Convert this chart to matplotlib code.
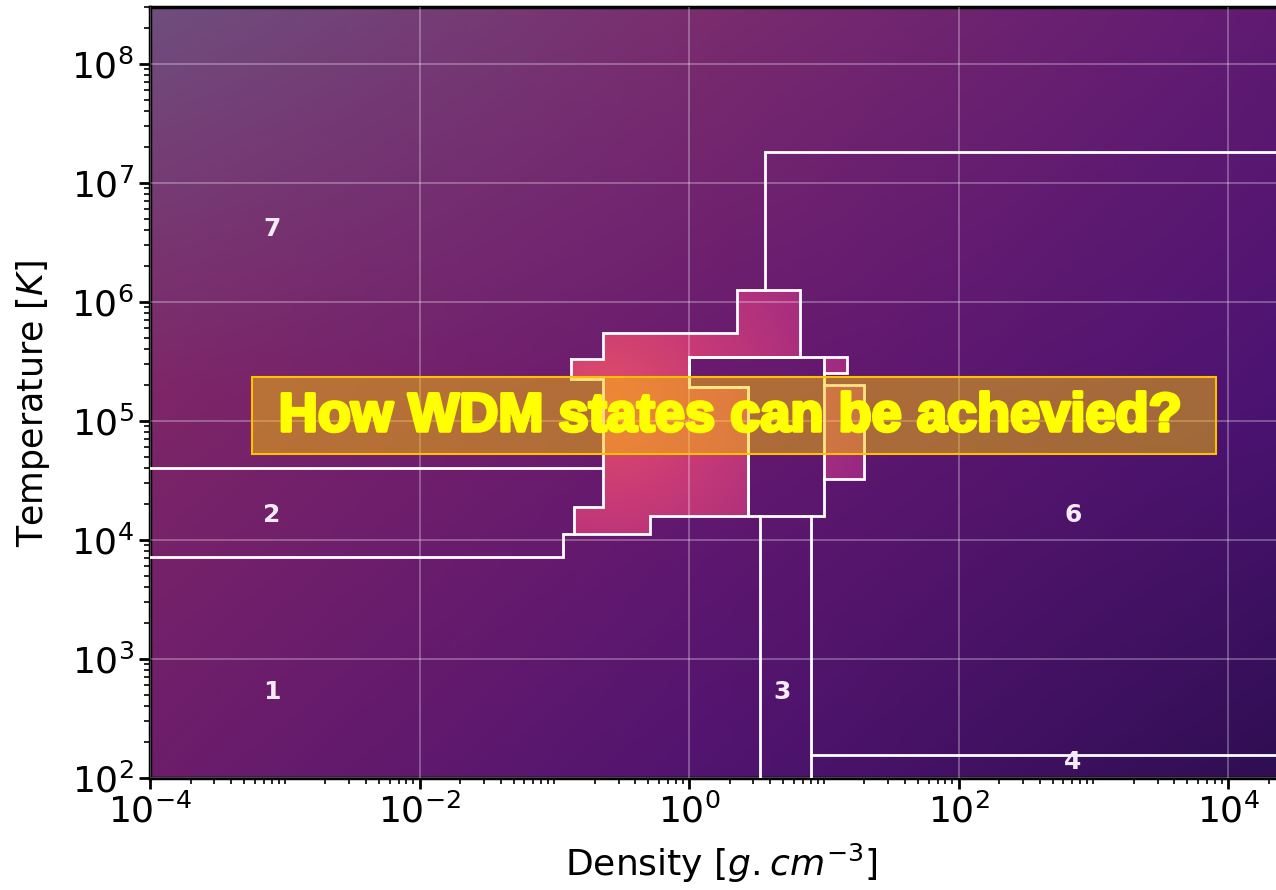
import numpy as np
import matplotlib.pyplot as plt
from matplotlib.path import Path
from matplotlib.patches import PathPatch, Rectangle
from matplotlib.colors import to_rgb
from matplotlib.ticker import FixedLocator, LogLocator, NullFormatter
import matplotlib.patheffects as pe

# ── Region outlines (density g/cm3, temperature K) ───────────────────────────
wdm_rho = [0.133, 0.23, 0.23, 2.27, 2.27, 6.67, 6.67, 1.0, 1.0, 2.74, 2.74,
           0.51, 0.51, 0.14, 0.14, 0.23, 0.23, 0.133]
wdm_T = [3.3e5, 3.3e5, 5.46e5, 5.46e5, 1.25e6, 1.25e6, 3.43e5, 3.43e5, 1.92e5,
         1.92e5, 1.58e4, 1.58e4, 1.12e4, 1.12e4, 1.88e4, 1.88e4, 2.24e5, 2.24e5]

tab_rho = [10.0, 15.0, 15.0, 10.0]
tab_T = [3.43e5, 3.43e5, 2.52e5, 2.52e5]

side_rho = [10.0, 20.0, 20.0, 10.0]
side_T = [2.0e5, 2.0e5, 3.24e4, 3.24e4]

box5_rho = [1.0, 10.0, 10.0, 2.74, 2.74, 1.0, 1.0]
box5_T = [3.43e5, 3.43e5, 1.58e4, 1.58e4, 1.92e5, 1.92e5, 3.43e5]

r2_top_rho = [1e-4, 0.23]
r2_top_T = [4.0e4, 4.0e4]
r2_bot_rho = [1e-4, 0.116, 0.116, 0.14]
r2_bot_T = [7.16e3, 7.16e3, 1.12e4, 1.12e4]

r6_rho = [3.66, 3.66, 1e6]
r6_T = [1.25e6, 1.81e7, 1.81e7]

r3_left_rho = [3.36, 3.36]
r3_right_rho = [8.1, 8.1]
r3_T = [1.58e4, 10.0]

r4_rho = [8.1, 1e6]
r4_T = [155, 155]

labels = ['7', '2', '1', '3', '6', '4']
label_rho = [8e-4, 8e-4, 8e-4, 4.9, 708, 708]
label_T = [4.1e6, 1.6e4, 525, 525, 1.6e4, 135]

x_major = [1e-4, 1e-2, 1e0, 1e2, 1e4]
y_major = [1e2, 1e3, 1e4, 1e5, 1e6, 1e7, 1e8]

# ── Figure ───────────────────────────────────────────────────────────────────
fig = plt.figure(figsize=(12.76, 8.90), dpi=100)
ax = fig.add_axes([150 / 1276, 112.3 / 890, 1126 / 1276, 770.7 / 890])
ax.set_xscale('log')
ax.set_yscale('log')

# background gradient (3x3 colour grid, bilinear)
bg_cols = [['#6f4e7e', '#7a2c6e', '#601a72'],
           ['#7e2668', '#68196f', '#4c1372'],
           ['#6c1d6b', '#501470', '#2f0e52']]
grid = np.array([[to_rgb(c) for c in row] for row in bg_cols])
H, W = 200, 292
gy = np.linspace(0, 2, H)
gx = np.linspace(0, 2, W)
iy = np.minimum(gy.astype(int), 1)
ix = np.minimum(gx.astype(int), 1)
fy = (gy - iy)[:, None, None]
fx = (gx - ix)[None, :, None]
c00 = grid[iy][:, ix]
c01 = grid[iy][:, ix + 1]
c10 = grid[iy + 1][:, ix]
c11 = grid[iy + 1][:, ix + 1]
bg = (c00 * (1 - fx) + c01 * fx) * (1 - fy) + (c10 * (1 - fx) + c11 * fx) * fy
ax.imshow(bg, extent=[0, 1, 0, 1], transform=ax.transAxes, aspect='auto',
          interpolation='bilinear', zorder=0)

# WDM hot region: radial gradient clipped to the outlines
px = np.linspace(0, 1126, W)[None, :]
py = np.linspace(0, 771, H)[:, None]
d = np.hypot(px - 460, py - 395)
stops_d = [0, 100, 260]
stops_c = np.array([to_rgb('#e04e68'), to_rgb('#c83a76'), to_rgb('#982883')])
hot = np.stack([np.interp(d, stops_d, stops_c[:, k]) for k in range(3)], axis=-1)
im = ax.imshow(hot, extent=[0, 1, 0, 1], transform=ax.transAxes, aspect='auto',
               interpolation='bilinear', zorder=1)
paths = [Path(np.column_stack([r, t]), closed=False)
         for r, t in [(wdm_rho, wdm_T), (tab_rho, tab_T), (side_rho, side_T)]]
clip = PathPatch(Path.make_compound_path(*paths), transform=ax.transData,
                 facecolor='none', edgecolor='none')
ax.add_patch(clip)
im.set_clip_path(clip)

ax.set_xlim(1e-4, 2.27e4)
ax.set_ylim(1e2, 3.0e8)

# white region boundaries
lw = 2.0
for r, t in [(wdm_rho + wdm_rho[:1], wdm_T + wdm_T[:1]),
             (tab_rho, tab_T), (side_rho, side_T), (box5_rho, box5_T),
             (r2_top_rho, r2_top_T), (r2_bot_rho, r2_bot_T), (r6_rho, r6_T),
             (r3_left_rho, r3_T), (r3_right_rho, r3_T), (r4_rho, r4_T)]:
    ax.plot(r, t, color='white', lw=lw, zorder=3, solid_joinstyle='miter')

for s, r, t in zip(labels, label_rho, label_T):
    ax.text(r, t, s, color='#f5eaf5', fontsize=18, fontweight='bold',
            ha='center', va='center', zorder=3)

# highlighted question banner
ax.add_patch(Rectangle((0.0906, 0.420), 0.8561, 0.100, transform=ax.transAxes,
                       facecolor='#ffc800', alpha=0.48, edgecolor='none', zorder=4))
ax.add_patch(Rectangle((0.0906, 0.420), 0.8561, 0.100, transform=ax.transAxes,
                       facecolor='none', edgecolor='#ffc000', lw=1.5, zorder=4))
ax.text(0.515, 0.468, 'How WDM states can be achevied?', transform=ax.transAxes,
        color='#ffff00', fontsize=39, fontweight='bold', family='Liberation Sans',
        ha='center', va='center', zorder=5,
        path_effects=[pe.withStroke(linewidth=2.5, foreground='#ffff00')])

# axes styling
ax.xaxis.set_major_locator(FixedLocator(x_major))
ax.yaxis.set_major_locator(FixedLocator(y_major))
ax.xaxis.set_minor_locator(LogLocator(base=10, subs=np.arange(1, 10), numticks=100))
ax.xaxis.set_minor_formatter(NullFormatter())
ax.yaxis.set_minor_formatter(NullFormatter())
ax.set_axisbelow(False)
ax.grid(True, which='major', color='white', alpha=0.3, lw=1.3)
ax.tick_params(which='major', length=8, width=2, labelsize=26, direction='out')
ax.tick_params(which='minor', length=4, width=1.2, direction='out')
ax.tick_params(top=False, right=False, which='both')
for side in ['left', 'bottom', 'top']:
    ax.spines[side].set_linewidth(2.5)
ax.spines['right'].set_visible(False)

ax.set_xlabel(r'Density [$g.cm^{-3}$]', fontsize=26)
ax.set_ylabel(r'Temperature [$K$]', fontsize=25)
ax.xaxis.set_label_coords(0.507, -0.083)
ax.yaxis.set_label_coords(-0.087, 0.486)

plt.savefig('out.png', dpi=100)
